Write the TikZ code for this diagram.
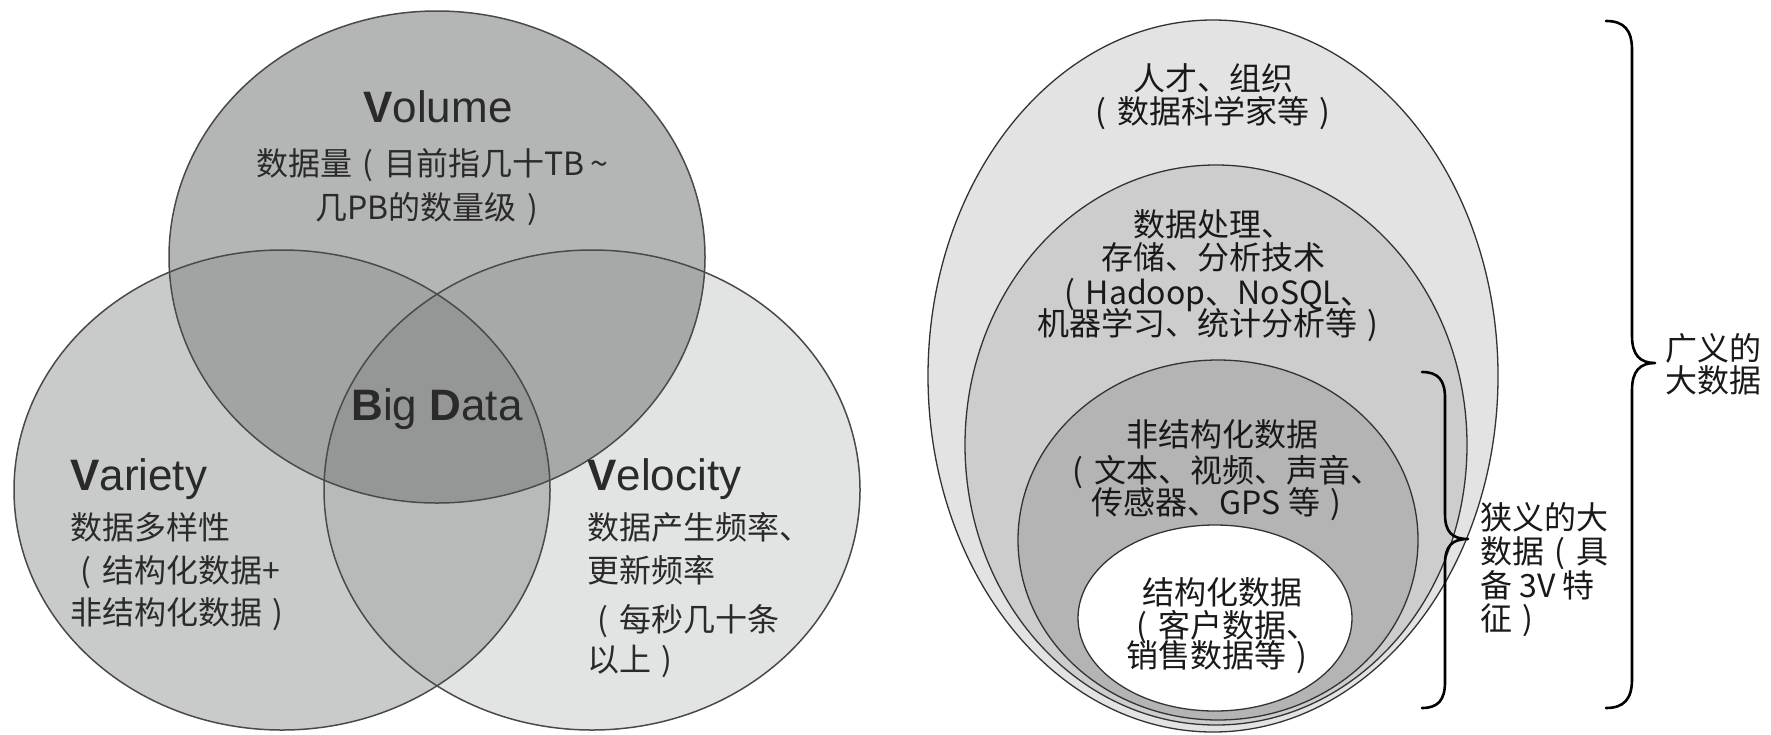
\documentclass[tikz,border=0pt]{standalone}
\usepackage{fontspec}
\setmainfont{Noto Sans CJK SC}
\newfontfamily\latf{Liberation Sans}
\newcommand{\lpr}{\makebox[1em]{(}}
\newcommand{\rpr}{\makebox[1em]{)}}
\definecolor{cvol}{HTML}{B4B6B6}
\definecolor{cvar}{HTML}{C9CBCB}
\definecolor{cvel}{HTML}{E2E4E4}
\definecolor{cvolvar}{HTML}{A2A4A4}
\definecolor{cvolvel}{HTML}{A7A9A9}
\definecolor{cvarvel}{HTML}{B8BABA}
\definecolor{call}{HTML}{959797}
\definecolor{vline}{HTML}{4A4A4A}
\definecolor{ctext}{HTML}{2A2A2A}
\definecolor{eone}{HTML}{E3E3E3}
\definecolor{etwo}{HTML}{CDCDCD}
\definecolor{ethree}{HTML}{B4B4B4}
\definecolor{eline}{HTML}{333333}
\begin{document}
\begin{tikzpicture}[x=1pt,y=-1pt,
  vline/.style={draw=vline, line width=1.5pt},
  eline/.style={draw=eline, line width=1.3pt},
  ttl/.style={font=\latf\fontsize{44}{50}\selectfont, text=ctext, inner sep=0pt, anchor=base},
  cjk/.style={font=\fontsize{32}{38}\selectfont, text=ctext, inner sep=0pt, anchor=base},
  cjkl/.style={cjk, anchor=base west},
  rtx/.style={font=\fontsize{32}{38}\selectfont, text=black!90, inner sep=0pt, anchor=base},
  rtxl/.style={rtx, anchor=base west},
  bracestyle/.style={draw=black, line width=2.6pt, line cap=round, line join=round}]
\useasboundingbox (0,0) rectangle (1771,734);
\fill[white] (0,0) rectangle (1771,734);

% ---------- Venn diagram ----------
\fill[cvol] (437,257) ellipse [x radius=268pt, y radius=246pt];
\fill[cvar] (282,490) ellipse [x radius=268pt, y radius=240pt];
\fill[cvel] (592,490) ellipse [x radius=268pt, y radius=240pt];
\begin{scope}
  \clip (437,257) ellipse [x radius=268pt, y radius=246pt];
  \fill[cvolvar] (282,490) ellipse [x radius=268pt, y radius=240pt];
  \fill[cvolvel] (592,490) ellipse [x radius=268pt, y radius=240pt];
\end{scope}
\begin{scope}
  \clip (282,490) ellipse [x radius=268pt, y radius=240pt];
  \fill[cvarvel] (592,490) ellipse [x radius=268pt, y radius=240pt];
  \clip (437,257) ellipse [x radius=268pt, y radius=246pt];
  \fill[call] (592,490) ellipse [x radius=268pt, y radius=240pt];
\end{scope}
\path[vline] (437,257) ellipse [x radius=268pt, y radius=246pt];
\path[vline] (282,490) ellipse [x radius=268pt, y radius=240pt];
\path[vline] (592,490) ellipse [x radius=268pt, y radius=240pt];

\node[ttl] (voltitle) at (438,122) {{\bfseries V}olume};
\node[cjk] (vol1) at (432,175) {数据量\lpr 目前指几十TB\hspace{6pt}\textasciitilde};
\node[cjk] (vol2) at (432,219) {几PB的数量级\rpr};
\node[ttl] (bigdata) at (437,420) {{\bfseries B}ig {\bfseries D}ata};
\node[ttl, anchor=base west] (vartitle) at (70,490) {{\bfseries V}ariety};
\node[cjkl] (var1) at (70,539) {数据多样性};
\node[cjkl] (var2) at (70,582) {\lpr 结构化数据+};
\node[cjkl] (var3) at (70,624) {非结构化数据\rpr};
\node[ttl, anchor=base west] (veltitle) at (587,490) {{\bfseries V}elocity};
\node[cjkl] (vel1) at (587,539) {数据产生频率、};
\node[cjkl] (vel2) at (587,582) {更新频率};
\node[cjkl] (vel3) at (587,631) {\lpr 每秒几十条};
\node[cjkl] (vel4) at (587,671) {以上\rpr};

% ---------- nested ellipses ----------
\path[eline, fill=eone] (1213,376) ellipse [x radius=285pt, y radius=356pt];
\path[eline, fill=etwo] (1216,445) ellipse [x radius=251pt, y radius=280pt];
\path[eline, fill=ethree] (1218,540) ellipse [x radius=200pt, y radius=180pt];
\path[eline, fill=white] (1215,618) ellipse [x radius=137pt, y radius=93pt];

\node[rtx] (p1) at (1213,90) {人才、组织};
\node[rtx] (p2) at (1213,123) {\lpr 数据科学家等\rpr};
\node[rtx] (t1) at (1213,236) {数据处理、};
\node[rtx] (t2) at (1213,269) {存储、分析技术};
\node[rtx] (t3) at (1213,304) {\lpr Hadoop、NoSQL、};
\node[rtx] (t4) at (1213,335) {机器学习、统计分析等\rpr};
\node[rtx] (u1) at (1222,446) {非结构化数据};
\node[rtx] (u2) at (1222,482) {\lpr 文本、视频、声音、};
\node[rtx] (u3) at (1222,514) {传感器、GPS 等\rpr};
\node[rtx] (s1) at (1222,604) {结构化数据};
\node[rtx] (s2) at (1222,637) {\lpr 客户数据、};
\node[rtx] (s3) at (1222,667) {销售数据等\rpr};

% ---------- braces ----------
\coordinate (bbtop) at (1606,21);
\coordinate (bbtip) at (1655,363);
\coordinate (bbbot) at (1606,708);
\draw[bracestyle] (bbtop) .. controls (1624,21) and (1632,30) .. (1632,50)
  -- (1632,336) .. controls (1632,355) and (1640,363) .. (bbtip)
  .. controls (1640,363) and (1632,371) .. (1632,390)
  -- (1632,679) .. controls (1632,699) and (1624,708) .. (bbbot);
\coordinate (sbtop) at (1422,372);
\coordinate (sbtip) at (1468,539);
\coordinate (sbbot) at (1422,708);
\draw[bracestyle] (sbtop) .. controls (1438,372) and (1445,380) .. (1445,398)
  -- (1445,514) .. controls (1445,532) and (1452,539) .. (sbtip)
  .. controls (1452,539) and (1445,546) .. (1445,564)
  -- (1445,682) .. controls (1445,700) and (1438,708) .. (sbbot);

\node[rtxl] (wide1) at (1665,360) {广义的};
\node[rtxl] (wide2) at (1665,392) {大数据};
\node[rtxl] (nar1) at (1480,529) {狭义的大};
\node[rtxl] (nar2) at (1480,563) {数据\lpr 具};
\node[rtxl] (nar3) at (1480,597) {备 3V 特};
\node[rtxl] (nar4) at (1480,630) {征\rpr};
\end{tikzpicture}
\end{document}
